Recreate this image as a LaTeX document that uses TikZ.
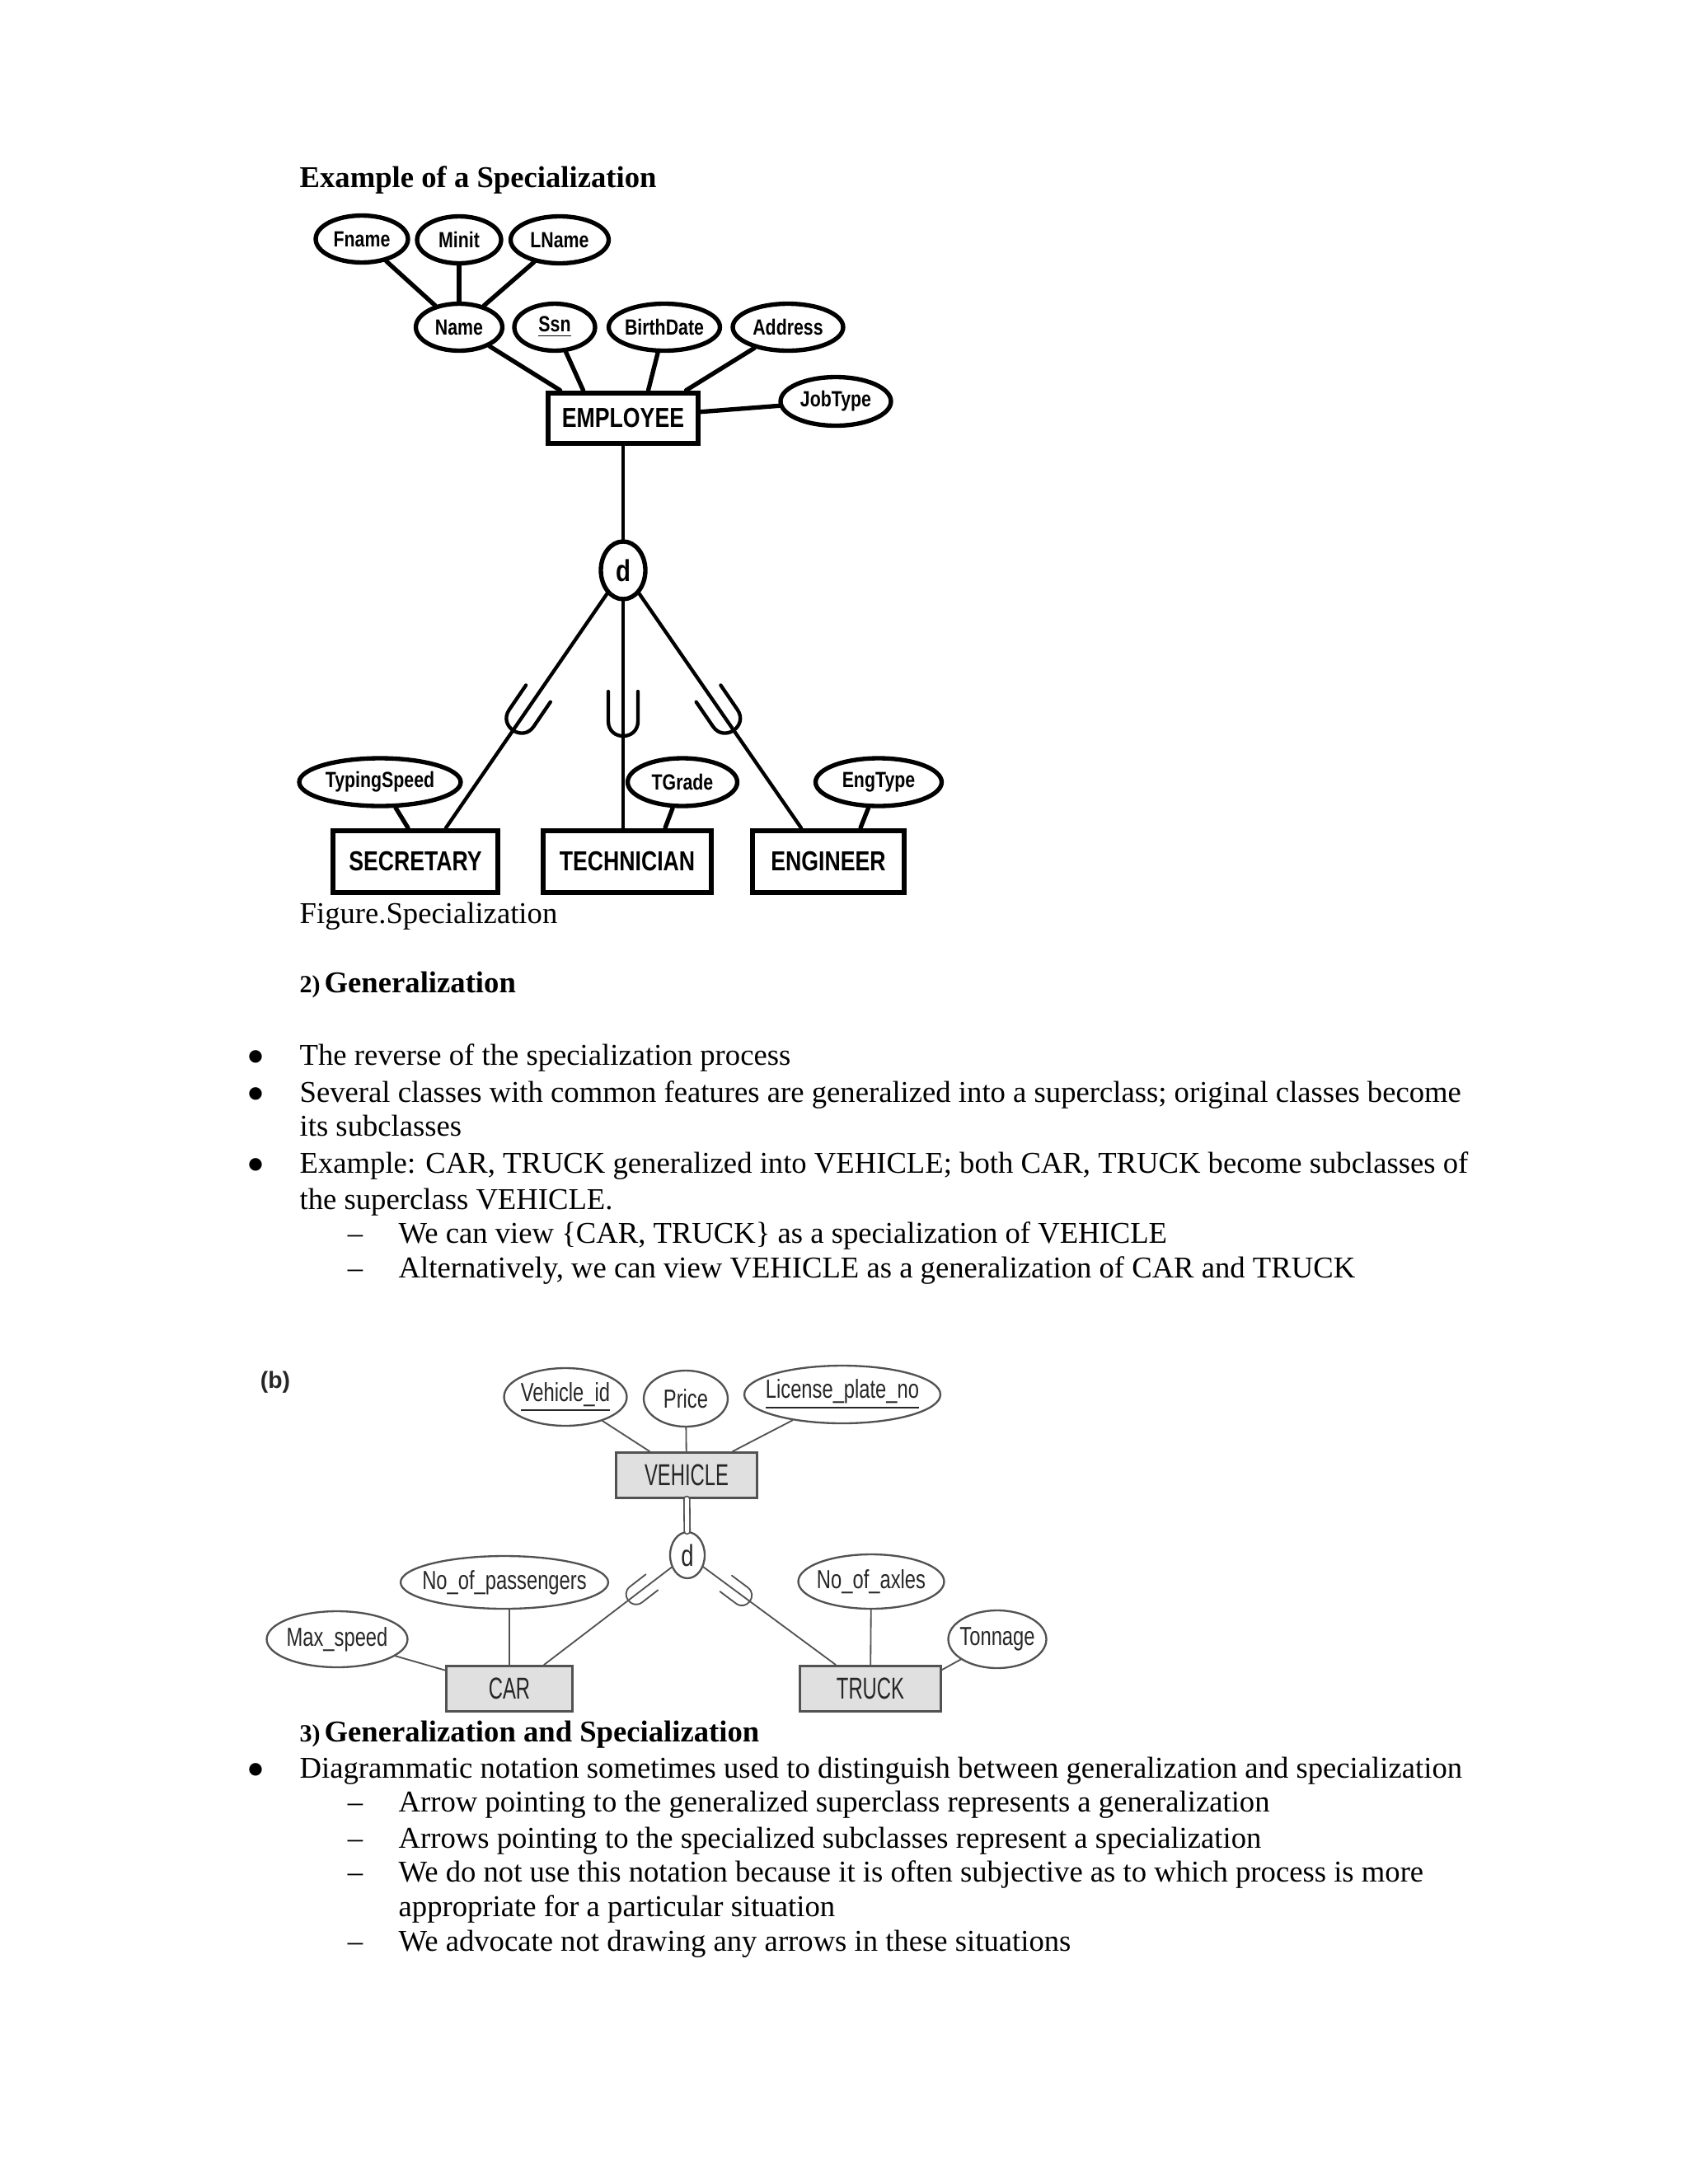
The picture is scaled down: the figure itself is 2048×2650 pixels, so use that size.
\documentclass[tikz,border=0pt]{standalone}
\usepackage{fontspec}
\setmainfont{Liberation Serif}
\newfontfamily\ersans[FakeStretch=0.8]{Liberation Sans}
\newfontfamily\grsans[FakeStretch=0.75]{Liberation Sans}
\newfontfamily\grbig[FakeStretch=0.65]{Liberation Sans}
\newfontfamily\labsans{Liberation Sans}
\newfontfamily\symfont{DejaVu Sans}
\usetikzlibrary{shapes.geometric,calc}
\colorlet{grline}{black!68}
\colorlet{grtext}{black!85}
\colorlet{grfill}{black!12}
\newcommand\pxu{0.29988pt}
\newcommand\zw[1]{\makebox[0pt]{#1}}

\begin{document}
\begin{tikzpicture}[x=0.010542cm, y=-0.010542cm, line cap=round,
    txt/.style={anchor=base west, inner sep=0pt, font=\fontsize{11}{13}\selectfont},
    dot/.style={anchor=center, inner sep=0pt, font=\symfont\fontsize{6}{7}\selectfont},
    endash/.style={anchor=base, inner sep=0pt, font=\fontsize{11}{13}\selectfont},
    subsetmark/.pic={\draw (-18,-27) -- (-18,9) .. controls (-18,33) and (18,33) .. (18,9) -- (18,-27);}]
\tikzstyle{attr}=[ellipse, draw, line width=1.6pt, inner sep=0pt, minimum height=57*\pxu,
    font=\ersans\bfseries\fontsize{8}{9}\selectfont]
\tikzstyle{ent}=[rectangle, draw, line width=1.8pt, inner sep=0pt, minimum height=61*\pxu,
    font=\ersans\bfseries\fontsize{10}{12}\selectfont]
\tikzstyle{link}=[line width=1.6pt]
\tikzstyle{isa}=[line width=1.3pt]
\tikzstyle{gattr}=[ellipse, draw=grline, line width=0.7pt, text=grtext, inner sep=0pt,
    minimum height=68*\pxu, font=\grsans\fontsize{9.5}{11}\selectfont]
\tikzstyle{gent}=[rectangle, draw=grline, fill=grfill, line width=0.9pt, text=grtext,
    inner sep=0pt, minimum height=55*\pxu, font=\grbig\fontsize{11}{13}\selectfont]
\tikzstyle{glink}=[draw=grline, line width=0.55pt]

\fill[white] (0,0) rectangle (2048,2650);
\useasboundingbox (0,0) rectangle (2048,2650);

% specialization example
\node[txt, font=\bfseries\fontsize{11}{13}\selectfont] (title) at (363,227) {Example of a Specialization};

\node[attr, minimum width=112*\pxu] (fname) at (439,290) {\zw{Fname}};
\node[attr, minimum width=102*\pxu] (minit) at (557,291) {\zw{Minit}};
\node[attr, minimum width=119*\pxu] (lname) at (679,291) {\zw{LName}};
\node[attr, minimum width=105*\pxu] (name)  at (557,397) {\zw{Name}};
\node[attr, minimum width=98*\pxu]  (ssn)   at (673,397) {\zw{\underline{Ssn}}};
\node[attr, minimum width=135*\pxu] (bdate) at (806,397) {\zw{BirthDate}};
\node[attr, minimum width=134*\pxu] (addr)  at (956,397) {\zw{Address}};
\node[attr, minimum width=134*\pxu, minimum height=59*\pxu] (jtype) at (1014,487) {\zw{JobType}};
\node[ent, minimum width=183*\pxu]  (emp)   at (756,507) {EMPLOYEE};
\node[attr, minimum width=54*\pxu, minimum height=70*\pxu, font=\ersans\bfseries\fontsize{11}{12}\selectfont] (d) at (756,692) {\zw{d}};

\node[attr, minimum width=196*\pxu, minimum height=58*\pxu] (tspeed) at (461,949) {\zw{TypingSpeed}};
\node[attr, minimum width=133*\pxu, minimum height=58*\pxu] (tgrade) at (828,949) {\zw{TGrade}};
\node[attr, minimum width=153*\pxu, minimum height=58*\pxu] (etype)  at (1066,949) {\zw{EngType}};
\node[ent, minimum width=200*\pxu, minimum height=75*\pxu] (sec)  at (504,1045) {SECRETARY};
\node[ent, minimum width=205*\pxu, minimum height=75*\pxu] (tech) at (761,1045) {TECHNICIAN};
\node[ent, minimum width=184*\pxu, minimum height=75*\pxu] (eng)  at (1005,1045) {ENGINEER};

\coordinate (secin)  at ($(sec.north)+(37,0)$);
\coordinate (techin) at (d |- tech.north);
\coordinate (engin)  at ($(eng.north)+(-33,0)$);

\draw[link] (fname) -- (name);
\draw[link] (minit) -- (name);
\draw[link] (lname) -- (name);
\draw[link] (name)  -- ($(emp.north west)+(18,0)$);
\draw[link] (ssn)   -- ($(emp.north west)+(46,0)$);
\draw[link] (bdate) -- ($(emp.north west)+(125,0)$);
\draw[link] (addr)  -- ($(emp.north west)+(171,0)$);
\draw[link] (emp)   -- (jtype);
\draw[isa]  (emp)   -- (d);
\draw[isa]  (d) -- (secin);
\draw[isa]  (d) -- (techin);
\draw[isa]  (d) -- (engin);
\pic[isa, rotate=-34.3] at ($(d)!0.55!(secin)$) {subsetmark};
\pic[isa]               at ($(d)!0.557!(techin)$) {subsetmark};
\pic[isa, rotate=34.4]  at ($(d)!0.55!(engin)$) {subsetmark};
\draw[link] (tspeed) -- ($(sec.north)+(-9,0)$);
\draw[link] (tgrade) -- ($(tech.north)+(46,0)$);
\draw[link] (etype)  -- ($(eng.north)+(39,0)$);

\node[txt] (fig) at (363,1120) {Figure.Specialization};

% generalization text
\node[txt, font=\bfseries\fontsize{9}{11}\selectfont] (num2) at (363,1204) {2)};
\node[txt, font=\bfseries\fontsize{11}{13}\selectfont] (head2) at (393,1204) {Generalization};

\node[dot] (b1) at (310,1282) {●};
\node[txt] (l1) at (363,1292) {The reverse of the specialization process};
\node[dot] (b2) at (310,1327) {●};
\node[txt] (l2) at (363,1337) {Several classes with common features are generalized into a superclass; original classes become};
\node[txt] (l3) at (363,1378) {its subclasses};
\node[dot] (b3) at (310,1413) {●};
\node[txt] (l4) at (363,1423) {Example: CAR, TRUCK generalized into VEHICLE; both CAR, TRUCK become subclasses of};
\node[txt] (l5) at (363,1467) {the superclass VEHICLE.};
\node[endash] (s1) at (431,1508) {–};
\node[txt] (l6) at (483,1508) {We can view \{CAR, TRUCK\} as a specialization of VEHICLE};
\node[endash] (s2) at (431,1550) {–};
\node[txt] (l7) at (483,1550) {Alternatively, we can view VEHICLE as a generalization of CAR and TRUCK};

% generalization example (b)
\node[inner sep=0pt, text=grtext, font=\labsans\bfseries\fontsize{8.5}{10}\selectfont] (blabel) at (334,1677) {(b)};

\node[gattr, minimum width=149*\pxu, minimum height=70*\pxu] (vid)   at (686,1695) {\zw{\underline{Vehicle\_id}}};
\node[gattr, minimum width=102*\pxu] (price) at (832,1697) {\zw{Price}};
\node[gattr, minimum width=238*\pxu, minimum height=70*\pxu] (lic)   at (1022,1692) {\zw{\underline{License\_plate\_no}}};
\node[gent, minimum width=172*\pxu] (veh) at (833,1790) {VEHICLE};
\node[gattr, minimum width=42*\pxu, minimum height=56*\pxu, font=\grsans\fontsize{11}{12}\selectfont] (gd) at (834,1887) {\zw{d}};
\node[gattr, minimum width=252*\pxu, minimum height=64*\pxu] (nop)  at (612,1920) {\zw{No\_of\_passengers}};
\node[gattr, minimum width=171*\pxu] (maxs) at (409,1989) {\zw{Max\_speed}};
\node[gent, minimum width=153*\pxu] (car)   at (618,2049) {CAR};
\node[gattr, minimum width=177*\pxu, minimum height=66*\pxu] (noa)  at (1057,1919) {\zw{No\_of\_axles}};
\node[gattr, minimum width=119*\pxu, minimum height=70*\pxu] (ton)  at (1210,1989) {\zw{Tonnage}};
\node[gent, minimum width=171*\pxu] (truck) at (1056,2049) {TRUCK};

\coordinate (carin)   at ($(car.north)+(42,0)$);
\coordinate (truckin) at ($(truck.north)+(-42,0)$);

\draw[glink] (vid) -- (veh);
\draw[glink] (price) -- (veh);
\draw[glink] (lic) -- (veh);
\draw[glink, double=white, double distance=1.5pt] (veh) -- (gd);
\draw[glink] (gd) -- (carin);
\draw[glink] (gd) -- (truckin);
\pic[glink, draw=grline, scale=0.67, rotate=-52.3] at ($(gd)!0.33!(carin)$) {subsetmark};
\pic[glink, draw=grline, scale=0.67, rotate=53.2]  at ($(gd)!0.34!(truckin)$) {subsetmark};
\draw[glink] (car.north) -- (car.north |- nop.south);
\draw[glink] (maxs) -- (car);
\draw[glink] (noa) -- (truck);
\draw[glink] (ton) -- ($(truck.north east)+(0,6)$);

% generalization and specialization text
\node[txt, font=\bfseries\fontsize{9}{11}\selectfont] (num3) at (363,2113) {3)};
\node[txt, font=\bfseries\fontsize{11}{13}\selectfont] (head3) at (393,2113) {Generalization and Specialization};
\node[dot] (b4) at (310,2147) {●};
\node[txt] (m1) at (363,2157) {Diagrammatic notation sometimes used to distinguish between generalization and specialization};
\node[endash] (s3) at (431,2198) {–};
\node[txt] (m2) at (483,2198) {Arrow pointing to the generalized superclass represents a generalization};
\node[endash] (s4) at (431,2242) {–};
\node[txt] (m3) at (483,2242) {Arrows pointing to the specialized subclasses represent a specialization};
\node[endash] (s5) at (431,2283) {–};
\node[txt] (m4) at (483,2283) {We do not use this notation because it is often subjective as to which process is more};
\node[txt] (m5) at (483,2325) {appropriate for a particular situation};
\node[endash] (s6) at (431,2367) {–};
\node[txt] (m6) at (483,2367) {We advocate not drawing any arrows in these situations};
\end{tikzpicture}
\end{document}
